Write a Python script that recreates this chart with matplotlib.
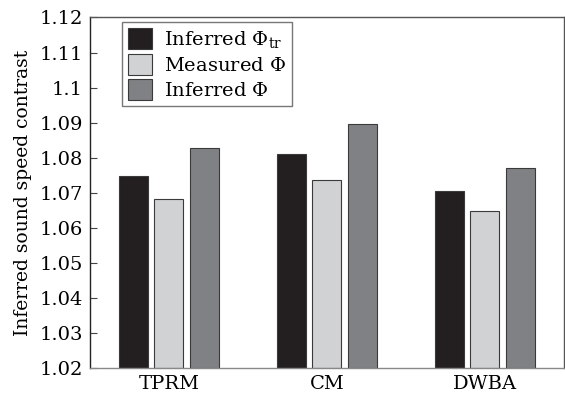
import numpy as np
import matplotlib
matplotlib.use('Agg')
import matplotlib.pyplot as plt

plt.rcParams['font.family'] = ['DejaVu Serif']
plt.rcParams['mathtext.fontset'] = 'dejavuserif'

# data
methods = ['TPRM', 'CM', 'DWBA']
inferred_tr = [1.0748, 1.0811, 1.0704]
measured = [1.0683, 1.0737, 1.0648]
inferred = [1.0827, 1.0896, 1.0772]
series_labels = [r'Inferred $\Phi_{\rm tr}$', r'Measured $\Phi$', r'Inferred $\Phi$']
colors = ['#231f20', '#d1d2d4', '#808184']
yticks = [1.02, 1.03, 1.04, 1.05, 1.06, 1.07, 1.08, 1.09, 1.1, 1.11, 1.12]
ytick_labels = ['1.02', '1.03', '1.04', '1.05', '1.06', '1.07', '1.08', '1.09', '1.1', '1.11', '1.12']

fig = plt.figure(figsize=(5.65, 3.97), dpi=100)
ax = fig.add_axes([0.159, 0.073, 0.839, 0.883])

x = np.arange(len(methods))
width = 0.184
step = 0.223
for i, (vals, lab, c) in enumerate(zip([inferred_tr, measured, inferred], series_labels, colors)):
    ax.bar(x + (i - 1) * step, np.array(vals) - 1.02, width, bottom=1.02,
           color=c, edgecolor='#3a3a3a', linewidth=0.8, label=lab)

ax.set_xlim(-0.5, 2.5)
ax.set_ylim(1.02, 1.12)
ax.set_xticks(x)
ax.set_xticklabels(methods, fontsize=14)
ax.set_yticks(yticks)
ax.set_yticklabels(ytick_labels, fontsize=14)
ax.tick_params(axis='y', direction='in', length=5, color='#444444', pad=5)
ax.tick_params(axis='x', length=0, pad=5)
for s in ax.spines.values():
    s.set_color('#555555')
    s.set_linewidth(1.0)
ax.spines['left'].set_color('#222222')
ax.spines['bottom'].set_color('#888888')

ax.set_ylabel('Inferred sound speed contrast', fontsize=13.5, labelpad=5)

leg = ax.legend(loc='upper left', bbox_to_anchor=(0.068, 0.986), fontsize=14,
                frameon=True, fancybox=False, handlelength=1.25, handleheight=1.3,
                handletextpad=0.6, borderpad=0.3, labelspacing=0.2,
                borderaxespad=0.0)
leg.get_frame().set_edgecolor('#555555')
leg.get_frame().set_linewidth(1.0)

fig.savefig('out.png', dpi=100)
